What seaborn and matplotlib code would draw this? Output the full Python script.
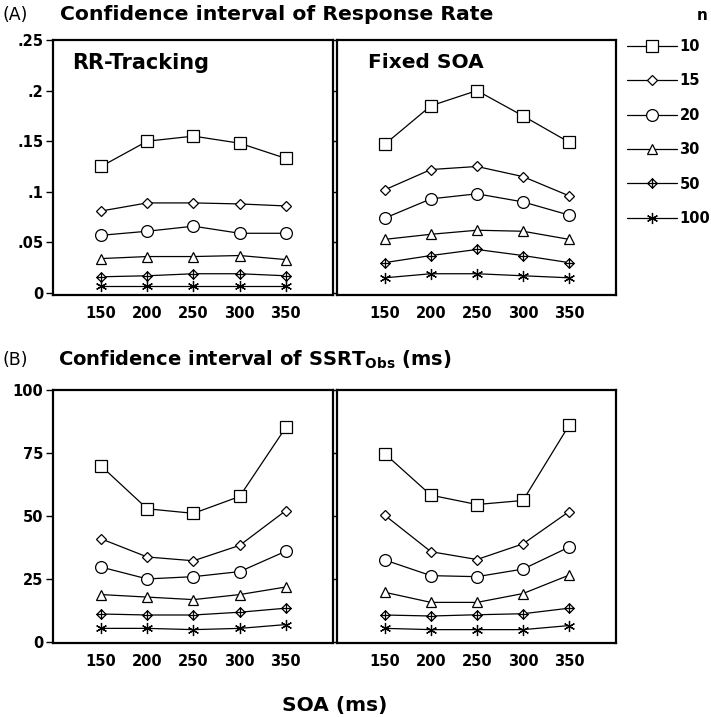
import numpy as np
import pandas as pd
import matplotlib
matplotlib.use("Agg")
import matplotlib.pyplot as plt
import seaborn as sns
from matplotlib.path import Path
from matplotlib.lines import Line2D

# ---------------- data ----------------
soa = [150, 200, 250, 300, 350]
n_levels = ["10", "15", "20", "30", "50", "100"]

rate_rr = {
    "10":  [0.125, 0.150, 0.155, 0.148, 0.133],
    "15":  [0.081, 0.089, 0.089, 0.088, 0.086],
    "20":  [0.057, 0.061, 0.066, 0.059, 0.059],
    "30":  [0.034, 0.036, 0.036, 0.037, 0.033],
    "50":  [0.016, 0.017, 0.019, 0.019, 0.017],
    "100": [0.007, 0.007, 0.007, 0.007, 0.007],
}
rate_fixed = {
    "10":  [0.147, 0.185, 0.200, 0.175, 0.149],
    "15":  [0.102, 0.122, 0.125, 0.115, 0.096],
    "20":  [0.074, 0.093, 0.098, 0.090, 0.077],
    "30":  [0.053, 0.058, 0.062, 0.061, 0.053],
    "50":  [0.030, 0.037, 0.043, 0.037, 0.030],
    "100": [0.015, 0.019, 0.019, 0.017, 0.015],
}
ssrt_rr = {
    "10":  [69.9, 52.9, 51.1, 57.8, 85.2],
    "15":  [41.0, 33.8, 32.3, 38.4, 52.2],
    "20":  [29.8, 25.1, 26.0, 28.0, 36.1],
    "30":  [18.9, 17.9, 16.9, 18.9, 21.9],
    "50":  [11.2, 10.8, 10.8, 11.9, 13.5],
    "100": [5.5, 5.5, 5.0, 5.5, 7.0],
}
ssrt_fixed = {
    "10":  [74.7, 58.3, 54.6, 56.2, 86.0],
    "15":  [50.3, 35.9, 32.8, 39.0, 51.8],
    "20":  [32.6, 26.4, 26.0, 29.0, 37.7],
    "30":  [19.8, 15.8, 15.8, 19.3, 26.6],
    "50":  [10.8, 10.4, 10.9, 11.3, 13.5],
    "100": [5.5, 5.0, 5.0, 5.0, 6.6],
}

rate_ticks = [0, 0.05, 0.1, 0.15, 0.2, 0.25]
rate_ticklabels = ["0", ".05", ".1", ".15", ".2", ".25"]
ssrt_ticks = [0, 25, 50, 75, 100]
ssrt_ticklabels = ["0", "25", "50", "75", "100"]

# ---------------- styles ----------------
crossed_diamond = Path(
    [(0, 1), (1, 0), (0, -1), (-1, 0), (0, 1), (0, 1), (0, -1), (-1, 0), (1, 0)],
    [Path.MOVETO, Path.LINETO, Path.LINETO, Path.LINETO, Path.CLOSEPOLY,
     Path.MOVETO, Path.LINETO, Path.MOVETO, Path.LINETO],
)
marker_map = {"10": "s", "15": "D", "20": "o", "30": "^", "50": crossed_diamond, "100": (6, 2, 0)}
msize_map = {"10": 9.0, "15": 4.9, "20": 8.5, "30": 7.5, "50": 6.8, "100": 8.0}

sns.set_theme(style="ticks")
plt.rcParams["font.family"] = ["DejaVu Sans"]
plt.rcParams["axes.linewidth"] = 1.6
plt.rcParams["text.color"] = "black"
plt.rcParams["xtick.color"] = "black"
plt.rcParams["ytick.color"] = "black"
plt.rcParams["xtick.labelcolor"] = "black"
plt.rcParams["ytick.labelcolor"] = "black"
plt.rcParams["axes.edgecolor"] = "black"

fig = plt.figure(figsize=(7.11, 7.17), dpi=100)
W, H = 711, 717


def px_axes(x0, y0, x1, y1):
    return fig.add_axes([x0 / W, 1 - y1 / H, (x1 - x0) / W, (y1 - y0) / H])


axA1 = px_axes(53, 40, 333, 295)
axA2 = px_axes(337, 40, 616, 295)
axB1 = px_axes(53, 390, 333, 643)
axB2 = px_axes(337, 390, 616, 643)


def draw(ax, data):
    rows = []
    for n in n_levels:
        for s, v in zip(soa, data[n]):
            rows.append({"SOA": s, "val": v, "n": n})
    df = pd.DataFrame(rows)
    for n in n_levels:
        sub = df[df["n"] == n]
        sns.lineplot(data=sub, x="SOA", y="val", ax=ax, color="black",
                     marker=marker_map[n], markersize=msize_map[n],
                     markerfacecolor="white", markeredgecolor="black",
                     markeredgewidth=0.9, linewidth=0.9, label=n, legend=False)
    ax.set_xlim(98, 401)
    ax.set_xticks(soa)
    ax.set_xticklabels([str(s) for s in soa], fontsize=10.5, fontweight="bold")
    ax.tick_params(axis="x", length=0, pad=8, labelcolor="black")
    ax.set_xlabel("")
    ax.set_ylabel("")
    for sp in ax.spines.values():
        sp.set_visible(True)
        sp.set_linewidth(1.6)
        sp.set_color("black")


draw(axA1, rate_rr)
draw(axA2, rate_fixed)
draw(axB1, ssrt_rr)
draw(axB2, ssrt_fixed)

for ax in (axA1, axA2):
    ax.set_ylim(-0.002, 0.25)
    ax.set_yticks(rate_ticks)
for ax in (axB1, axB2):
    ax.set_ylim(-0.3, 100)
    ax.set_yticks(ssrt_ticks)

axA1.set_yticklabels(rate_ticklabels, fontsize=10.5, fontweight="bold")
axB1.set_yticklabels(ssrt_ticklabels, fontsize=10.5, fontweight="bold")
for ax in (axA1, axB1):
    ax.tick_params(axis="y", length=5, width=1.0, pad=2, colors="black")
for ax in (axA2, axB2):
    ax.set_yticklabels([])
    ax.tick_params(axis="y", length=3, width=1.0, colors="black")

axA1.text(0.07, 0.95, "RR-Tracking", transform=axA1.transAxes, fontsize=15,
          fontweight="bold", va="top", ha="left")
axA2.text(0.11, 0.95, "Fixed SOA", transform=axA2.transAxes, fontsize=14.5,
          fontweight="bold", va="top", ha="left")

# titles
fig.text(2 / W, 1 - 15 / H, "(A)", fontsize=12.5, va="center", ha="left")
fig.text(60 / W, 1 - 15 / H, "Confidence interval of Response Rate",
         fontsize=14.7, fontweight="bold", va="center", ha="left")
fig.text(2 / W, 1 - 360 / H, "(B)", fontsize=12.5, va="center", ha="left")
fig.text(58 / W, 1 - 360 / H,
         r"Confidence interval of SSRT$_{\mathregular{Obs}}$ (ms)",
         fontsize=14.0, fontweight="bold", va="center", ha="left")
fig.text(335 / W, 1 - 705 / H, "SOA (ms)", fontsize=14.5, fontweight="bold",
         va="center", ha="center")

# legend
handles, labels = axA1.get_legend_handles_labels()
leg = fig.legend(handles, labels, loc="upper left", bbox_to_anchor=(627 / W, 1 - 39 / H),
                 frameon=False, handlelength=3.45, labelspacing=1.33,
                 handletextpad=0.15, borderaxespad=0, borderpad=0,
                 prop={"weight": "bold", "size": 10.5})
fig.text(702 / W, 1 - 15 / H, "n", fontsize=11, fontweight="bold", va="center", ha="center")

fig.savefig("out.png", dpi=100)
